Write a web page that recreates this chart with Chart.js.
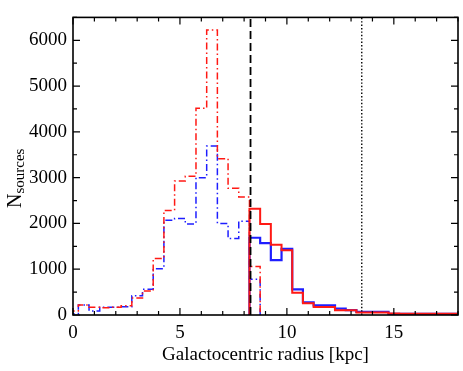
<!DOCTYPE html>
<html>
<head>
<meta charset="utf-8">
<script src="https://cdn.jsdelivr.net/npm/chart.js@4.4.0/dist/chart.umd.min.js"></script>
<style>
  html, body { margin: 0; padding: 0; background: #fff; }
  #wrap { width: 463px; height: 371px; }
</style>
</head>
<body>
<div id="wrap"><canvas id="chart" width="463" height="371"></canvas></div>
<script>
// Bin centres in kpc, each bin is 0.5 kpc wide
const radius = [0, 0.5, 1, 1.5, 2, 2.5, 3, 3.5, 4, 4.5, 5, 5.5, 6, 6.5, 7, 7.5, 8, 8.5,
                9, 9.5, 10, 10.5, 11, 11.5, 12, 12.5, 13, 13.5, 14, 14.5, 15, 15.5, 16, 16.5,
                17, 17.5, 18];
const binWidth = 0.5;

// Inner galaxy (dash-dot), null = no bin
const redInner  = [90, 220, 170, 160, 170, 200, 370, 523, 1234, 2284, 2927, 3031, 4516, 6224, 3414, 2766, 2578, 1060,
                   null, null, null, null, null, null, null, null, null, null, null, null, null, null, null, null,
                   null, null, null];
const blueInner = [30, 220, 90, 170, 170, 180, 420, 560, 1010, 2070, 2110, 1990, 3000, 3690, 2000, 1670, 2050, 780,
                   null, null, null, null, null, null, null, null, null, null, null, null, null, null, null, null,
                   null, null, null];

// Outer galaxy (solid)
const redOuter  = [null, null, null, null, null, null, null, null, null, null, null, null, null, null, null, null, null,
                   2320, 1986, 1532, 1415, 487, 257, 174, 174, 105, 105, 56, 56, 56, 32, 30, 30, 30, 30, 30, 30];
const blueOuter = [null, null, null, null, null, null, null, null, null, null, null, null, null, null, null, null, null,
                   1687, 1568, 1198, 1443, 558, 278, 209, 209, 140, 105, 70, 70, 70, 25, 25, 25, 25, 25, 25, 25];

// Reference radii (kpc)
const sunRadius = 8.3;
const outerRadius = 13.5;

const xTicks = [0, 5, 10, 15];
const yTicks = [0, 1000, 2000, 3000, 4000, 5000, 6000];
const xMin = 0, xMax = 18, yMin = 0, yMax = 6500;

const RED = 'rgb(255,25,20)';
const BLUE = 'rgb(30,30,255)';
const FONT = 'Liberation Serif, Times New Roman, serif';

// turn a histogram into points for a 'before' stepped line
function stepPoints(values) {
    const pts = [];
    let last = -1;
    values.forEach((v, i) => {
        if (v === null) return;
        const left = radius[i] - binWidth / 2;
        if (last < 0) pts.push({ x: left, y: 0 });
        pts.push({ x: left, y: v });
        last = i;
    });
    const right = radius[last] + binWidth / 2;
    pts.push({ x: right, y: values[last] });
    pts.push({ x: right, y: 0 });
    return pts;
}

function vline(x) {
    return [{ x: x, y: yMin }, { x: x, y: yMax }];
}

// frame, inward ticks and the y title
const framePlugin = {
    id: 'frame',
    afterDraw(chart) {
        const ctx = chart.ctx;
        const a = chart.chartArea;
        const xs = chart.scales.x, ys = chart.scales.y;
        ctx.save();
        ctx.strokeStyle = '#000';
        ctx.lineWidth = 1.6;
        ctx.strokeRect(a.left, a.top, a.right - a.left, a.bottom - a.top);

        ctx.lineWidth = 1.2;
        ctx.beginPath();
        for (let v = xMin; v <= xMax; v += 1) {
            const px = xs.getPixelForValue(v);
            const len = v % 5 === 0 ? 7 : 4;
            ctx.moveTo(px, a.bottom); ctx.lineTo(px, a.bottom - len);
            ctx.moveTo(px, a.top); ctx.lineTo(px, a.top + len);
        }
        for (let v = yMin; v <= yMax; v += 500) {
            const py = ys.getPixelForValue(v);
            const len = v % 1000 === 0 ? 7 : 4;
            ctx.moveTo(a.left, py); ctx.lineTo(a.left + len, py);
            ctx.moveTo(a.right, py); ctx.lineTo(a.right - len, py);
        }
        ctx.stroke();

        // N with subscript "sources", rotated
        ctx.translate(21, 208);
        ctx.rotate(-Math.PI / 2);
        ctx.fillStyle = '#000';
        ctx.textBaseline = 'alphabetic';
        ctx.font = '20px ' + FONT;
        ctx.fillText('N', 0, 0);
        const w = ctx.measureText('N').width;
        ctx.font = '15px ' + FONT;
        ctx.fillText('sources', w, 3);
        ctx.restore();
    }
};

const tickFont = { family: FONT, size: 19 };

new Chart(document.getElementById('chart'), {
    type: 'line',
    data: {
        datasets: [
            { data: vline(sunRadius), borderColor: '#000', borderWidth: 1.8, borderDash: [8, 4], order: 0 },
            { data: vline(outerRadius), borderColor: '#000', borderWidth: 1.4, borderDash: [1.4, 2], order: 0 },
            { data: stepPoints(redOuter), borderColor: RED, borderWidth: 2, stepped: 'before', order: 1 },
            { data: stepPoints(blueOuter), borderColor: BLUE, borderWidth: 2.2, stepped: 'before', order: 2 },
            { data: stepPoints(redInner), borderColor: RED, borderWidth: 1.5, borderDash: [7, 3, 1.5, 3], stepped: 'before', order: 3 },
            { data: stepPoints(blueInner), borderColor: BLUE, borderWidth: 1.5, borderDash: [7, 3, 1.5, 3], stepped: 'before', order: 4 }
        ]
    },
    options: {
        responsive: false,
        animation: false,
        layout: { padding: { top: 4, right: 5, left: 0, bottom: 0 } },
        plugins: { legend: { display: false }, tooltip: { enabled: false } },
        elements: { point: { radius: 0 }, line: { tension: 0, fill: false } },
        scales: {
            x: {
                type: 'linear', min: xMin, max: xMax,
                grid: { display: false, drawTicks: false },
                border: { display: false },
                afterBuildTicks: axis => { axis.ticks = xTicks.map(v => ({ value: v })); },
                ticks: { font: tickFont, color: '#000', padding: 7, maxRotation: 0, autoSkip: false,
                         callback: v => String(v) },
                title: { display: true, text: 'Galactocentric radius [kpc]', font: tickFont, color: '#000',
                         padding: { top: 0, bottom: 5 } },
                afterFit: s => { s.height = 56; }
            },
            y: {
                type: 'linear', min: yMin, max: yMax,
                grid: { display: false, drawTicks: false },
                border: { display: false },
                afterBuildTicks: axis => { axis.ticks = yTicks.map(v => ({ value: v })); },
                ticks: { font: tickFont, color: '#000', padding: 6, autoSkip: false,
                         callback: v => String(v) },
                afterFit: s => { s.width = 73; }
            }
        }
    },
    plugins: [framePlugin]
});
</script>
</body>
</html>
